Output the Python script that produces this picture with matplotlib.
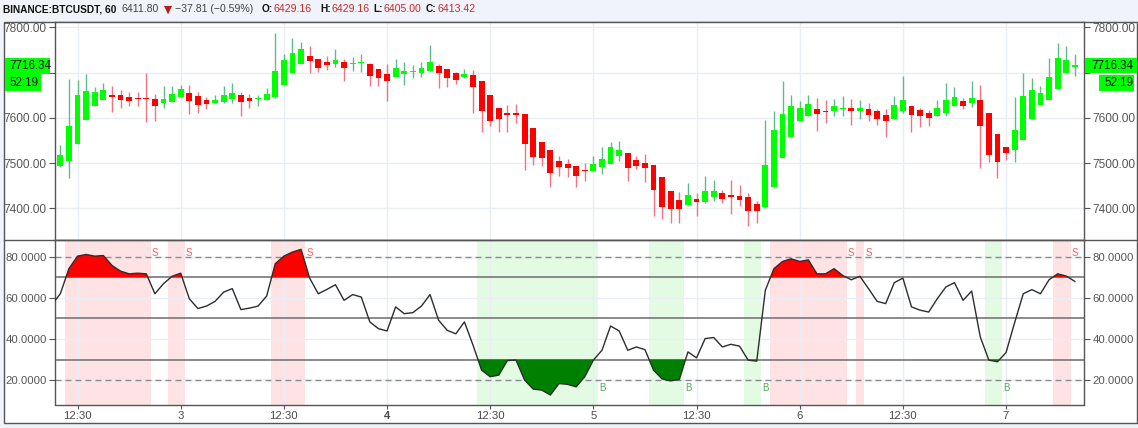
import numpy as np
import matplotlib
matplotlib.use("Agg")
import matplotlib.pyplot as plt
from matplotlib.patches import Rectangle
from matplotlib.lines import Line2D

# ---------------- data ----------------
opens = [7494, 7505, 7542, 7595, 7626, 7639, 7650, 7650, 7646, 7643,
         7642, 7641, 7633, 7636, 7645, 7655, 7648, 7639, 7633, 7636,
         7642, 7650, 7644, 7641, 7639, 7645, 7673, 7700, 7720, 7737,
         7731, 7723, 7719, 7723, 7718, 7721, 7720, 7708, 7697, 7690,
         7697, 7701, 7700, 7704, 7715, 7708, 7700, 7691, 7695, 7681,
         7651, 7622, 7608, 7609, 7608, 7577, 7546, 7529, 7505, 7498,
         7494, 7484, 7483, 7491, 7498, 7516, 7522, 7507, 7500, 7496,
         7469, 7438, 7418, 7407, 7421, 7414, 7426, 7433, 7430, 7427,
         7424, 7410, 7402, 7448, 7511, 7558, 7592, 7605, 7619, 7615,
         7614, 7620, 7621, 7616, 7619, 7615, 7606, 7597, 7614, 7626,
         7617, 7610, 7605, 7611, 7625, 7637, 7632, 7639, 7610, 7564,
         7535, 7528, 7550, 7597, 7628, 7639, 7664, 7698, 7713]
highs = [7540, 7686, 7684, 7697, 7669, 7678, 7670, 7661, 7658, 7656,
         7700, 7653, 7670, 7670, 7673, 7673, 7656, 7645, 7650, 7670,
         7678, 7656, 7653, 7650, 7665, 7788, 7742, 7776, 7768, 7759,
         7731, 7737, 7752, 7729, 7735, 7741, 7721, 7708, 7719, 7729,
         7724, 7717, 7723, 7761, 7720, 7708, 7702, 7707, 7706, 7681,
         7651, 7622, 7628, 7631, 7608, 7577, 7546, 7529, 7516, 7508,
         7494, 7500, 7516, 7535, 7547, 7549, 7522, 7516, 7519, 7496,
         7469, 7438, 7435, 7455, 7433, 7472, 7463, 7441, 7463, 7452,
         7433, 7417, 7595, 7614, 7681, 7651, 7637, 7651, 7643, 7639,
         7642, 7648, 7642, 7639, 7632, 7619, 7619, 7648, 7693, 7626,
         7621, 7617, 7639, 7678, 7669, 7643, 7681, 7673, 7610, 7564,
         7535, 7647, 7700, 7687, 7670, 7732, 7765, 7759, 7741]
lows = [7492, 7468, 7542, 7595, 7626, 7639, 7613, 7621, 7627, 7626,
        7591, 7594, 7621, 7636, 7645, 7609, 7611, 7619, 7633, 7632,
        7632, 7603, 7621, 7627, 7639, 7644, 7673, 7700, 7720, 7698,
        7702, 7706, 7713, 7681, 7704, 7702, 7671, 7671, 7638, 7690,
        7673, 7689, 7691, 7704, 7665, 7669, 7675, 7687, 7610, 7569,
        7581, 7569, 7569, 7588, 7485, 7496, 7494, 7448, 7472, 7469,
        7448, 7461, 7483, 7476, 7498, 7505, 7460, 7486, 7459, 7383,
        7376, 7368, 7368, 7407, 7383, 7411, 7416, 7411, 7388, 7405,
        7360, 7368, 7401, 7448, 7511, 7558, 7592, 7605, 7571, 7589,
        7603, 7604, 7584, 7597, 7594, 7584, 7558, 7597, 7610, 7568,
        7579, 7582, 7605, 7603, 7625, 7619, 7623, 7490, 7503, 7468,
        7507, 7503, 7550, 7597, 7628, 7639, 7664, 7698, 7693]
closes = [7518, 7582, 7650, 7659, 7657, 7661, 7646, 7639, 7637, 7642,
          7641, 7625, 7642, 7653, 7664, 7638, 7628, 7631, 7639, 7650,
          7655, 7636, 7637, 7642, 7653, 7703, 7728, 7743, 7752, 7726,
          7711, 7717, 7728, 7711, 7720, 7722, 7693, 7687, 7681, 7709,
          7704, 7702, 7709, 7723, 7700, 7687, 7684, 7697, 7667, 7616,
          7594, 7597, 7607, 7607, 7542, 7514, 7511, 7479, 7491, 7488,
          7472, 7483, 7497, 7508, 7535, 7529, 7490, 7494, 7490, 7441,
          7402, 7399, 7399, 7430, 7413, 7438, 7438, 7421, 7424, 7418,
          7394, 7393, 7496, 7573, 7608, 7626, 7621, 7630, 7609, 7612,
          7626, 7621, 7614, 7621, 7606, 7597, 7594, 7628, 7639, 7606,
          7603, 7600, 7621, 7639, 7645, 7627, 7643, 7581, 7518, 7503,
          7522, 7573, 7648, 7662, 7655, 7690, 7732, 7728, 7716.34]

# RSI values; the first one belongs to the bar just left of the visible window
rsi_values = [56.6,
              62.0, 74.2, 80.3, 81.1, 80.3, 80.6, 75.8, 73.0, 71.7, 72.0,
              71.7, 62.0, 66.9, 70.5, 72.0, 59.6, 54.8, 56.0, 58.3, 62.8,
              64.5, 54.3, 55.0, 56.0, 60.9, 76.6, 80.3, 82.3, 83.6, 69.6,
              62.0, 64.1, 66.4, 58.8, 61.6, 60.4, 48.3, 45.0, 43.9, 55.6,
              52.3, 52.8, 56.0, 61.6, 49.1, 44.2, 42.5, 48.3, 37.0, 24.8,
              21.6, 22.4, 29.5, 29.7, 20.0, 15.6, 15.1, 12.7, 18.3, 17.9,
              16.7, 21.6, 29.7, 34.5, 46.3, 43.9, 34.5, 36.1, 34.8, 24.8,
              20.5, 19.6, 20.3, 33.7, 30.8, 40.2, 40.7, 36.1, 37.4, 36.5,
              29.7, 29.2, 63.7, 74.2, 77.7, 79.0, 77.7, 78.5, 71.7, 71.7,
              74.2, 70.9, 68.8, 70.5, 64.5, 58.3, 57.2, 67.4, 69.6, 55.6,
              54.0, 53.1, 59.6, 65.3, 67.4, 58.8, 63.3, 41.0, 29.7, 28.9,
              33.4, 48.0, 62.0, 64.0, 62.0, 68.8, 71.7, 70.6, 68.0]

time_tick_pos = [2, 14, 26, 38, 50, 62, 74, 86, 98, 110]
time_tick_labels = ["12:30", "3", "12:30", "4", "12:30", "5", "12:30", "6", "12:30", "7"]
price_ticks = [7400, 7500, 7600, 7700, 7800]
rsi_ticks = [20, 40, 60, 80]
rsi_upper, rsi_mid, rsi_lower = 70, 50, 30
rsi_band_top, rsi_band_bottom = 80, 20
last_price_label = "7716.34"
countdown_label = "52:19"

# ---------------- figure ----------------
W, H = 1138, 428
fig = plt.figure(figsize=(W / 100, H / 100), dpi=100)
fig.patch.set_facecolor('#f0f3fa')
FONT = 'Liberation Sans'
TXT = '#555555'
EDGE = '#555555'
GRID = '#e9eef5'


def fx(px):
    return px / W


def fy(py):
    return 1 - py / H


fig.patches.append(Rectangle((fx(4), fy(423)), fx(1137) - fx(4), fy(21.7) - fy(423),
                             transform=fig.transFigure, facecolor='white',
                             edgecolor=EDGE, lw=1, zorder=-10))
fig.add_artist(Line2D([fx(4), fx(1137)], [fy(239.5), fy(239.5)], transform=fig.transFigure,
                      color=EDGE, lw=1, zorder=5))

ax1 = fig.add_axes([fx(55), fy(239.5), fx(1084.3) - fx(55), fy(21.7) - fy(239.5)])
ax2 = fig.add_axes([fx(55), fy(404.5), fx(1084.3) - fx(55), fy(239.5) - fy(404.5)], sharex=ax1)

n = len(closes)
x = np.arange(n)
o = np.array(opens, float)
h = np.array(highs, float)
l = np.array(lows, float)
c = np.array(closes, float)
up = c >= o

# ---- price pane ----
wick_up, wick_dn = '#5fba8c', '#f07482'
ax1.vlines(x[up], l[up], h[up], color=wick_up, lw=1, zorder=2)
ax1.vlines(x[~up], l[~up], h[~up], color=wick_dn, lw=1, zorder=2)
body_bottom = np.minimum(o, c)
body_h = np.maximum(np.abs(c - o), 2.5)
ax1.bar(x[up], body_h[up], bottom=body_bottom[up], width=0.68, color='#00ff00', lw=0, zorder=3)
ax1.bar(x[~up], body_h[~up], bottom=body_bottom[~up], width=0.68, color='#ff0000', lw=0, zorder=3)

ax1.set_xlim(-0.62, 119.1)
ax1.set_ylim(7331, 7812.4)
ax1.set_yticks(price_ticks)
# the 7700 label sits under the last-price boxes, so it is not shown
ax1.set_yticklabels(["" if abs(v - 7700) < 1 else f"{v:.2f}" for v in price_ticks])
ax1.set_xticks(time_tick_pos)
ax1.grid(True, color=GRID, lw=1, zorder=0)
ax1.set_axisbelow(True)
ax1.tick_params(axis='x', length=0, labelbottom=False)
ax1.tick_params(axis='y', left=True, right=True, labelleft=True, labelright=True,
                length=4, color=EDGE, labelsize=8.6, labelcolor=TXT, pad=2)

# ---- RSI pane ----
rsi = np.array(rsi_values, float)
rx = np.arange(-1, n)


def runs(mask):
    out, start = [], None
    for i, m in enumerate(mask):
        if m and start is None:
            start = i
        if not m and start is not None:
            out.append((start, i - 1))
            start = None
    if start is not None:
        out.append((start, len(mask) - 1))
    return out


vis = rsi[1:]
for s, e in runs(vis > rsi_upper):
    ax2.axvspan(s - 0.5, e + 0.5, color='#ffe2e4', lw=0, zorder=0.5)
for s, e in runs(vis < rsi_lower):
    ax2.axvspan(s - 0.5, e + 0.5, color='#e2fbe2', lw=0, zorder=0.5)

ax2.fill_between(rx, rsi, rsi_upper, where=rsi > rsi_upper, interpolate=True,
                 color='#ff0000', lw=0, zorder=2)
ax2.fill_between(rx, rsi, rsi_lower, where=rsi < rsi_lower, interpolate=True,
                 color='#008000', lw=0, zorder=2)

for lvl in (rsi_band_top, rsi_band_bottom):
    ax2.axhline(lvl, color='#8c8c8c', lw=1, ls=(0, (4.3, 2.9)), zorder=1.5)
for lvl in (rsi_upper, rsi_mid, rsi_lower):
    ax2.axhline(lvl, color='#777777', lw=1.2, zorder=1.5)

ax2.plot(rx, rsi, color='#2d2d2d', lw=1, zorder=3)

# sell / buy markers where the zone is left
for i in range(1, len(rsi)):
    xi = rx[i]
    if rsi[i - 1] > rsi_upper and rsi[i] <= rsi_upper:
        ax2.text(xi, 82, 'S', color='#ff5a5a', fontsize=7, ha='center', va='center',
                 family=FONT, zorder=4)
    if rsi[i - 1] < rsi_lower and rsi[i] >= rsi_lower:
        ax2.text(xi, 16.2, 'B', color='#4caf50', fontsize=7, ha='center', va='center',
                 family=FONT, zorder=4)

ax2.set_ylim(8.1, 88.4)
ax2.set_yticks(rsi_ticks)
ax2.set_yticklabels([f"{v:.4f}" for v in rsi_ticks])
ax2.set_xticks(time_tick_pos)
ax2.set_xticklabels(time_tick_labels)
for lab in ax2.get_xticklabels():
    if lab.get_text() == "4":
        lab.set_fontweight('bold')
ax2.grid(True, color=GRID, lw=1, zorder=0)
ax2.set_axisbelow(True)
ax2.tick_params(axis='y', left=True, right=True, labelleft=True, labelright=True,
                length=4, color=EDGE, labelsize=8.2, labelcolor=TXT, pad=2)
ax2.tick_params(axis='x', length=3, color=EDGE, labelsize=8.2, labelcolor='#4a4a4a', pad=2)

for ax in (ax1, ax2):
    for sp in ax.spines.values():
        sp.set_color(EDGE)
        sp.set_linewidth(1)
    for lab in ax.get_yticklabels() + ax.get_xticklabels():
        lab.set_family(FONT)


# ---- last price / countdown labels ----
def box(x0, x1, y0, y1, text, tx):
    fig.patches.append(Rectangle((fx(x0), fy(y1)), fx(x1) - fx(x0), fy(y0) - fy(y1),
                                 transform=fig.transFigure, facecolor='#00ff00',
                                 edgecolor='none', zorder=6))
    fig.text(fx(tx), fy((y0 + y1) / 2), text, ha='left', va='center', fontsize=8.4,
             family=FONT, color='#111111', zorder=7)


box(1084.5, 1137, 58.3, 73.3, last_price_label, 1091)
box(1099, 1134, 75, 90.7, countdown_label, 1104)
box(5, 50, 58.3, 74.3, last_price_label, 9.5)
box(5, 41, 74.3, 91, countdown_label, 9.5)

# ---- header ----
hy = fy(9.5)
hdr = [
    (3, "BINANCE:BTCUSDT, 60", '#111111', 'bold', 7.3, FONT),
    (122, "6411.80", '#444444', 'normal', 7.6, FONT),
    (163.5, "\u25bc", '#b71c1c', 'normal', 7.6, 'DejaVu Sans'),
    (175, "\u221237.81 (\u22120.59%)", '#444444', 'normal', 7.6, FONT),
    (262, "O:", '#111111', 'bold', 7.3, FONT),
    (274, "6429.16", '#c62828', 'normal', 7.6, FONT),
    (320, "H:", '#111111', 'bold', 7.3, FONT),
    (332, "6429.16", '#c62828', 'normal', 7.6, FONT),
    (373, "L:", '#111111', 'bold', 7.3, FONT),
    (383, "6405.00", '#c62828', 'normal', 7.6, FONT),
    (426, "C:", '#111111', 'bold', 7.3, FONT),
    (438, "6413.42", '#c62828', 'normal', 7.6, FONT),
]
for px, t, col, wt, fs, fam in hdr:
    fig.text(fx(px), hy, t, ha='left', va='center', color=col, fontweight=wt,
             fontsize=fs, family=fam)

fig.savefig('out.png', dpi=100, facecolor=fig.get_facecolor())
